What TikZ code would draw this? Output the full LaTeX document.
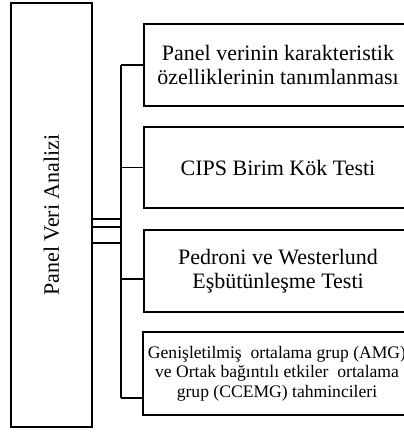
\documentclass[tikz,border=0pt]{standalone}
\usepackage{fontspec}
\setmainfont{Liberation Serif}
\begin{document}
\begin{tikzpicture}[x=1pt,y=-1pt,line width=1.2pt,
  kutu/.style={draw,minimum width=268pt,align=center,inner sep=0pt},
  buyuk/.style={font=\fontsize{22}{24.5}\selectfont},
  kucuk/.style={font=\fontsize{17.6}{19.5}\selectfont}]
  \useasboundingbox (0,0) rectangle (404,437);
  \clip (0,0) rectangle (404,437);
  % sol kutu
  \node[draw,rotate=90,minimum width=424pt,minimum height=81pt,buyuk] (analiz) at (51.5,215) {Panel Veri Analizi};
  % sag kutular
  \node[kutu,buyuk,minimum height=82pt] (k1) at (278,65) {Panel verinin karakteristik\\özelliklerinin tanımlanması};
  \node[kutu,buyuk,minimum height=81pt] (k2) at (278,167.5) {CIPS Birim Kök Testi};
  \node[kutu,buyuk,minimum height=82pt] (k3) at (278,271) {Pedroni ve Westerlund\\Eşbütünleşme Testi};
  \node[kutu,kucuk,minimum height=83pt] (k4) at (277,373.5) {Genişletilmiş\ \ ortalama grup (AMG)\\ve Ortak bağıntılı etkiler\ \ ortalama\\grup (CCEMG) tahmincileri};
  % baglantilar
  \coordinate (ust) at (121,65);
  \coordinate (alt) at (121,398);
  \draw (ust) -- (alt);
  \draw (k1.west) -- (ust);
  \draw (k2.west) -- (k2.west -| ust);
  \draw (k3.west |- 0,279) -- (ust |- 0,279);
  \draw (k4.west |- alt) -- (alt);
  \draw (analiz.south |- 0,219) -- (ust |- 0,219);
  \draw (analiz.south |- 0,227) -- (ust |- 0,227);
  \draw (analiz.south |- 0,243) -- (ust |- 0,243);
\end{tikzpicture}
\end{document}
